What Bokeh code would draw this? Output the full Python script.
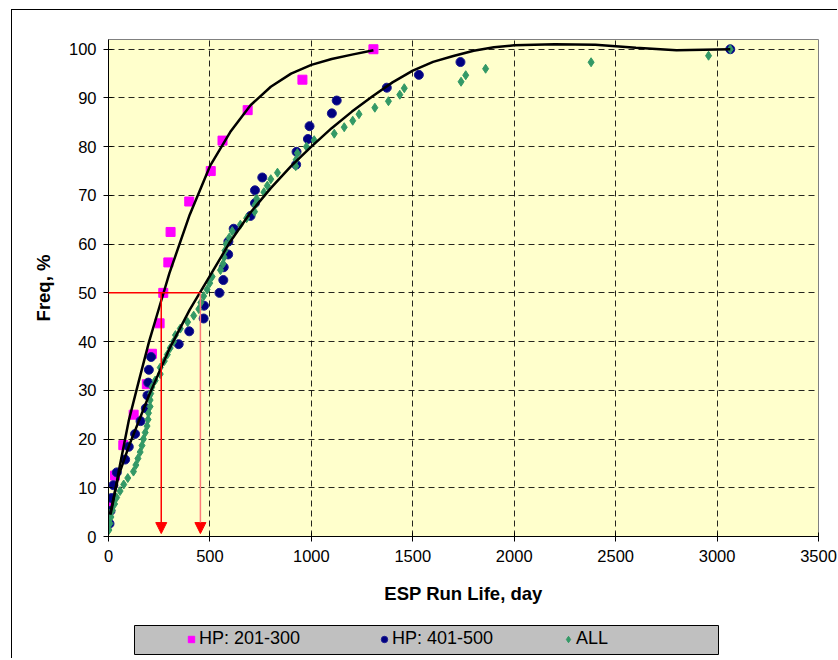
from bokeh.plotting import figure
from bokeh.layouts import column
from bokeh.models import (Range1d, FixedTicker, Legend, LegendItem, Arrow, NormalHead,
                          BoxAnnotation)
from bokeh.embed import file_html
from bokeh.resources import INLINE

# ---------------- data ----------------
hp201_x = [3, 32, 73, 124, 189, 214, 252, 270, 295, 306, 398, 504, 562, 686, 956, 1306]
hp201_y = [6.25, 12.5, 18.75, 25, 31.25, 37.5, 43.75, 50, 56.25, 62.5, 68.75, 75,
           81.25, 87.5, 93.75, 100]

hp401_x = [5, 10, 15, 24, 41, 82, 100, 131, 158, 184, 192, 196, 199, 210, 346, 398,
           469, 471, 547, 566, 568, 590, 591, 617, 700, 722, 722, 758, 925, 927,
           983, 991, 1101, 1125, 1372, 1530, 1735, 3065]
hp401_y = [2.63, 5.26, 7.89, 10.53, 13.16, 15.79, 18.42, 21.05, 23.68, 26.32, 28.95,
           31.58, 34.21, 36.84, 39.47, 42.11, 44.74, 47.37, 50.0, 52.63, 55.26, 57.89,
           60.53, 63.16, 65.79, 68.42, 71.05, 73.68, 76.32, 78.95, 81.58, 84.21, 86.84,
           89.47, 92.11, 94.74, 97.37, 100.0]

all_x = [2, 7, 12, 18, 30, 40, 57, 75, 95, 123, 135, 145, 156, 165, 172, 181, 190,
         195, 197, 205, 205, 208, 214, 230, 255, 255, 275, 290, 304, 321, 330, 354,
         390, 420, 445, 455, 469, 486, 499, 511, 552, 565, 570, 574, 580, 595, 610,
         650, 681, 720, 722, 730, 766, 783, 800, 833, 923, 925, 931, 976, 1014, 1113,
         1162, 1204, 1235, 1313, 1380, 1436, 1458, 1738, 1761, 1859, 2379, 2958, 3065]
all_y = [1.33, 2.67, 4.0, 5.33, 6.67, 8.0, 9.33, 10.67, 12.0, 13.33, 14.67, 16.0,
         17.33, 18.67, 20.0, 21.33, 22.67, 24.0, 25.33, 26.67, 28.0, 29.33, 30.67,
         32.0, 33.33, 34.67, 36.0, 37.33, 38.67, 40.0, 41.33, 42.67, 44.0, 45.33,
         46.67, 48.0, 49.33, 50.67, 52.0, 53.33, 54.67, 56.0, 57.33, 58.67, 60.0,
         61.33, 62.67, 64.0, 65.33, 66.67, 68.0, 69.33, 70.67, 72.0, 73.33, 74.67,
         76.0, 77.33, 78.67, 80.0, 81.33, 82.67, 84.0, 85.33, 86.67, 88.0, 89.33,
         90.67, 92.0, 93.33, 94.67, 96.0, 97.33, 98.67, 100.0]

# trend lines as drawn in the reference
fit201_x = [10, 20, 50, 100, 150, 200, 250, 300, 350, 400, 500, 600, 700, 800, 900,
            1000, 1100, 1200, 1306]
fit201_y = [4.5, 6.5, 13.3, 23.8, 32, 40, 47, 54, 60, 66, 76, 83, 88.5, 92.3, 95,
            96.8, 98, 98.9, 99.8]

fitall_x = [7, 50, 100, 200, 300, 400, 500, 600, 700, 800, 900, 1000, 1100, 1200,
            1300, 1400, 1500, 1600, 1700, 1800, 1900, 2000, 2200, 2400, 2500, 2600,
            2800, 3065]
fitall_y = [4.5, 12.5, 18.5, 29, 38.5, 46.5, 53.5, 60.5, 66.5, 71.5, 76, 80, 83.8,
            87.2, 90.3, 93.2, 95.6, 97.4, 98.6, 99.7, 100.4, 100.8, 101, 100.9, 100.6,
            100.3, 99.8, 100]

median_y = 50
median_x = [260, 453]          # run life at 50 % for the two curves
median_line_start = -64

x_ticks = [0, 500, 1000, 1500, 2000, 2500, 3000, 3500]
y_ticks = [0, 10, 20, 30, 40, 50, 60, 70, 80, 90, 100]

series_labels = ["HP: 201-300", "HP: 401-500", "ALL"]
series_markers = ["square", "circle", "diamond"]
series_fill = ["#FF00FF", "#000080", "#339966"]
series_line = ["#FF00FF", "#1A1A90", "#339966"]

FONT = "Liberation Sans"

# ---------------- main chart ----------------
p = figure(width=826, height=606, output_backend="svg", toolbar_location=None,
           x_range=Range1d(0, 3500), y_range=Range1d(0, 102),
           min_border_left=96, min_border_right=20, min_border_top=29,
           min_border_bottom=80)
p.styles = {"border-top": "1px solid #000000", "border-left": "1px solid #000000"}

p.background_fill_color = "#FFFFCC"
p.border_fill_color = "#FFFFFF"
p.outline_line_color = "#808080"
p.outline_line_width = 1

for ax in (p.xaxis[0], p.yaxis[0]):
    ax.axis_line_color = "#000000"
    ax.axis_line_width = 1
    ax.major_tick_line_color = "#000000"
    ax.major_tick_in = 4
    ax.major_tick_out = 5
    ax.minor_tick_line_color = None
    ax.major_label_text_font = FONT
    ax.major_label_text_font_size = "16.5px"
    ax.major_label_text_color = "#000000"
    ax.axis_label_text_font = FONT
    ax.axis_label_text_font_size = "18.5px"
    ax.axis_label_text_font_style = "bold"
    ax.axis_label_text_color = "#000000"

p.xaxis.ticker = FixedTicker(ticks=x_ticks)
p.yaxis.ticker = FixedTicker(ticks=y_ticks)
p.xaxis.axis_label = "ESP Run Life, day"
p.yaxis.axis_label = "Freq, %"
p.xaxis.major_label_standoff = 8
p.yaxis.major_label_standoff = 7
p.xaxis.axis_label_standoff = 18
p.yaxis.axis_label_standoff = 12

for g in (p.xgrid[0], p.ygrid[0]):
    g.grid_line_color = "#000000"
    g.grid_line_dash = "6 4"
    g.grid_line_width = 1
    g.grid_line_alpha = 0.85
p.xgrid.ticker = FixedTicker(ticks=x_ticks)
p.ygrid.ticker = FixedTicker(ticks=y_ticks)

series_x = [hp201_x, hp401_x, all_x]
series_y = [hp201_y, hp401_y, all_y]
for sx, sy, mk, fc, lc in zip(series_x, series_y, series_markers, series_fill, series_line):
    p.scatter(sx, sy, marker=mk, size=9, fill_color=fc, line_color=lc)

p.line(fit201_x, fit201_y, line_color="#000000", line_width=2.5)
p.line(fitall_x, fitall_y, line_color="#000000", line_width=2.5)

# median guide lines
p.add_layout(Arrow(end=None, x_start=median_line_start, y_start=median_y,
                   x_end=median_x[1], y_end=median_y,
                   line_color="#FF0000", line_width=1.5))
p.add_layout(Arrow(end=NormalHead(size=11, fill_color="#FF0000", line_color="#FF0000"),
                   x_start=median_x[0], y_start=median_y, x_end=median_x[0], y_end=0.6,
                   line_color="#FF0000", line_width=1.5))
p.add_layout(Arrow(end=NormalHead(size=11, fill_color="#FF0000", line_color="#FF0000"),
                   x_start=median_x[1], y_start=median_y, x_end=median_x[1], y_end=0.6,
                   line_color="#FF7A7A", line_width=1.5))

# ---------------- legend strip (pixel-like coordinates) ----------------
q = figure(width=826, height=43, output_backend="svg", toolbar_location=None,
           x_range=Range1d(108, 818), y_range=Range1d(659, 616),
           x_axis_location=None, y_axis_location=None,
           min_border_left=96, min_border_right=20, min_border_top=0,
           min_border_bottom=0)
q.styles = {"border-left": "1px solid #000000"}
q.grid.visible = False
q.outline_line_color = None
q.background_fill_color = "#FFFFFF"
q.border_fill_color = "#FFFFFF"

q.add_layout(BoxAnnotation(left=134, right=718, top=626, bottom=655,
                           fill_color="#C0C0C0", fill_alpha=1,
                           line_color="#000000", line_width=1, line_alpha=1))

legend_offsets = [75, 268, 452]
for i, (lab, mk, fc, lc) in enumerate(zip(series_labels, series_markers,
                                           series_fill, series_line)):
    # one sample point of each series; it lies outside this strip's ranges
    r = q.scatter(x=series_x[i][:1], y=series_y[i][:1], marker=mk, size=9,
                  fill_color=fc, line_color=lc)
    lg = Legend(items=[LegendItem(label=lab, renderers=[r])],
                location=(legend_offsets[i], 9))
    lg.padding = 0
    lg.margin = 0
    lg.glyph_width = 16
    lg.glyph_height = 16
    lg.label_standoff = 0
    lg.label_height = 19
    lg.label_text_font = FONT
    lg.label_text_font_size = "18px"
    lg.label_text_color = "#000000"
    lg.background_fill_alpha = 0
    lg.border_line_color = None
    q.add_layout(lg)

layout = column(p, q, spacing=0)
layout.margin = (9, 0, 0, 11)

open("out.html", "w").write(file_html(layout, INLINE))
